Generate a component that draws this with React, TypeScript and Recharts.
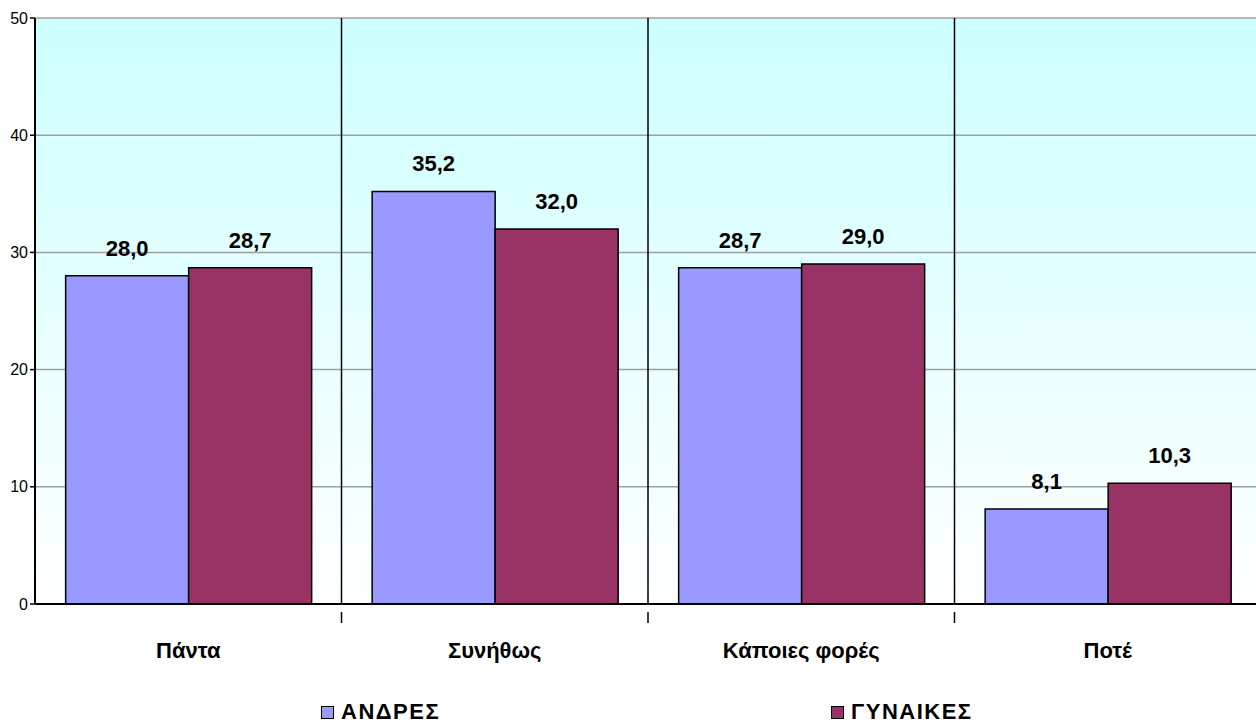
import * as React from "react";
import {
  BarChart,
  Bar,
  XAxis,
  YAxis,
  CartesianGrid,
  LabelList,
} from "recharts";

const categories = ["Πάντα", "Συνήθως", "Κάποιες φορές", "Ποτέ"];
const men = [28.0, 35.2, 28.7, 8.1];
const women = [28.7, 32.0, 29.0, 10.3];
const yTicks = [0, 10, 20, 30, 40, 50];

const MEN_COLOR = "#9999FF";
const WOMEN_COLOR = "#993366";
const FONT = "'Liberation Sans', Arial, sans-serif";

const data = categories.map((name, i) => ({
  name,
  men: men[i],
  women: women[i],
}));

const CHART_W = 1262;
const CHART_H = 725;
const PLOT_LEFT = 35;
const PLOT_RIGHT_MARGIN = 1;
const BAND = (CHART_W - PLOT_LEFT - PLOT_RIGHT_MARGIN) / categories.length;

const fmt = (v: any) => Number(v).toFixed(1).replace(".", ",");

const labelStyle = { fontFamily: FONT, fontWeight: "bold", fontSize: 22, fill: "#000" };

const CategoryTick = (props: any) => {
  const { x, y, payload } = props;
  return (
    <g>
      <line x1={x + BAND / 2} y1={y} x2={x + BAND / 2} y2={y + 11} stroke="#000" strokeWidth={1.5} />
      <text
        x={x}
        y={y + 38}
        textAnchor="middle"
        dominantBaseline="central"
        fontFamily={FONT}
        fontWeight="bold"
        fontSize={22}
        fill="#000"
      >
        {payload.value}
      </text>
    </g>
  );
};

const LegendBox = () => {
  const items = [
    { label: "ΑΝΔΡΕΣ", color: MEN_COLOR, left: 321 },
    { label: "ΓΥΝΑΙΚΕΣ", color: WOMEN_COLOR, left: 831 },
  ];
  return (
    <>
      {items.map((it) => (
        <div
          key={it.label}
          style={{
            position: "absolute",
            left: it.left,
            top: 699,
            height: 26,
            display: "flex",
            alignItems: "center",
            fontFamily: FONT,
            fontWeight: "bold",
            fontSize: 22,
            letterSpacing: 1.5,
            color: "#000",
          }}
        >
          <span
            style={{
              display: "inline-block",
              width: 11,
              height: 11,
              background: it.color,
              border: "1.5px solid #000",
              marginRight: 7,
            }}
          />
          {it.label}
        </div>
      ))}
    </>
  );
};

export default function App() {
  return (
    <div style={{ position: "absolute", left: 0, top: 0, width: 1256, height: 725, overflow: "hidden", background: "#fff" }}>
      <BarChart
        width={CHART_W}
        height={CHART_H}
        data={data}
        barCategoryGap="10%"
        barGap={0}
        margin={{ top: 18, right: PLOT_RIGHT_MARGIN, bottom: 61, left: 0 }}
      >
        <defs>
          <linearGradient id="bgGrad" x1="0" y1="0" x2="0" y2="1">
            <stop offset="0%" stopColor="#CCFFFF" />
            <stop offset="100%" stopColor="#FFFFFF" />
          </linearGradient>
        </defs>
        <CartesianGrid
          vertical={false}
          stroke="#A0A0A0"
          strokeWidth={1.5}
          fill="url(#bgGrad)"
          fillOpacity={1}
        />
        <CartesianGrid
          horizontal={false}
          stroke="#000"
          strokeWidth={1.5}
          verticalCoordinatesGenerator={({ offset }: any) =>
            [1, 2, 3].map((i) => offset.left + i * BAND)
          }
        />
        <XAxis
          dataKey="name"
          axisLine={{ stroke: "#000", strokeWidth: 2 }}
          tickLine={false}
          tick={<CategoryTick />}
          interval={0}
          height={60}
        />
        <YAxis
          domain={[0, 50]}
          ticks={yTicks}
          width={PLOT_LEFT}
          axisLine={{ stroke: "#000", strokeWidth: 2 }}
          tickLine={{ stroke: "#000", strokeWidth: 1.5 }}
          tickSize={5}
          tick={{ fontFamily: FONT, fontSize: 16, fill: "#000" }}
        />
        <Bar dataKey="men" fill={MEN_COLOR} stroke="#000" strokeWidth={1.5} isAnimationActive={false}>
          <LabelList dataKey="men" position="top" offset={20} formatter={fmt} style={labelStyle} />
        </Bar>
        <Bar dataKey="women" fill={WOMEN_COLOR} stroke="#000" strokeWidth={1.5} isAnimationActive={false}>
          <LabelList dataKey="women" position="top" offset={20} formatter={fmt} style={labelStyle} />
        </Bar>
      </BarChart>
      <LegendBox />
    </div>
  );
}
